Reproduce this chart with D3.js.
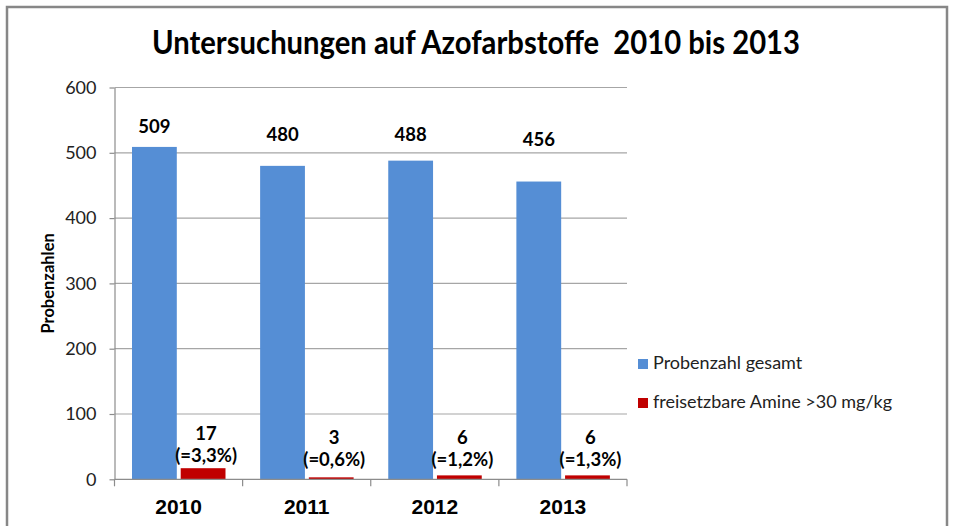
<!DOCTYPE html>
<html>
<head>
<meta charset="utf-8">
<script src="https://cdn.jsdelivr.net/npm/d3@7"></script>
<style>
  body { margin: 0; background: #fff; }
  svg { display: block; }
</style>
</head>
<body>
<svg></svg>
<script>
let width = 953, height = 526;

let years = ["2010", "2011", "2012", "2013"];
let series = ["Probenzahl gesamt", "freisetzbare Amine >30 mg/kg"];
let totals = [509, 480, 488, 456];
let amines = [17, 3, 6, 6];
let percents = ["(=3,3%)", "(=0,6%)", "(=1,2%)", "(=1,3%)"];
let yTicks = [0, 100, 200, 300, 400, 500, 600];
let colours = ["#558ed5", "#c00000"];

// label offsets above the blue bars (manually placed in the original)
let totalLabelGap = [14, 25, 20, 36];

let svg = d3.select("svg")
  .attr("width", width)
  .attr("height", height);

// outer frame (bottom edge falls outside the picture)
svg.append("rect")
  .attr("x", 7).attr("y", 7)
  .attr("width", 940).attr("height", 600)
  .attr("fill", "none")
  .attr("stroke", "#878787")
  .attr("stroke-width", 2.5);

svg.append("text")
  .attr("x", 152).attr("y", 54)
  .attr("textLength", 648)
  .attr("lengthAdjust", "spacingAndGlyphs")
  .style("white-space", "pre")
  .style("font-family", "Lato")
  .style("font-weight", "bold")
  .style("font-size", "32px")
  .text("Untersuchungen auf Azofarbstoffe  2010 bis 2013");

let plotLeft = 114.5, plotRight = 627, plotTop = 87.5, plotBottom = 479.3;

let y = d3.scaleLinear().domain([0, 600]).range([plotBottom, plotTop]);
let x0 = d3.scaleBand().domain(years).range([plotLeft, plotRight]);
let x1 = d3.scaleBand().domain(series).range([17.5, 111]).paddingInner(0.08);

// gridlines
svg.append("g")
  .selectAll("line")
  .data(yTicks.slice(1))
  .enter().append("line")
    .attr("x1", plotLeft).attr("x2", plotRight)
    .attr("y1", d => y(d)).attr("y2", d => y(d))
    .attr("stroke", "#a6a6a6")
    .attr("stroke-width", 1.2);

// y axis
let yAxis = svg.append("g")
  .attr("transform", "translate(" + plotLeft + ",0)")
  .call(d3.axisLeft(y).tickValues(yTicks).tickSize(5).tickPadding(13).tickSizeOuter(0));
yAxis.select(".domain").attr("stroke", "#8c8c8c").attr("stroke-width", 1.2);
yAxis.selectAll(".tick line").attr("stroke", "#8c8c8c").attr("stroke-width", 1.2);
yAxis.selectAll(".tick text")
  .style("font-family", "Lato")
  .style("font-size", "18px")
  .attr("fill", "#222");

svg.append("line")
  .attr("x1", plotLeft).attr("x2", plotLeft)
  .attr("y1", plotBottom).attr("y2", plotBottom + 7)
  .attr("stroke", "#8c8c8c").attr("stroke-width", 1.2);

// y axis title
svg.append("text")
  .attr("transform", "translate(54," + ((plotTop + plotBottom) / 2) + ") rotate(-90)")
  .attr("text-anchor", "middle")
  .style("font-family", "Lato")
  .style("font-weight", "bold")
  .style("font-size", "16.5px")
  .text("Probenzahlen");

// bars
let groups = svg.selectAll(".year")
  .data(years)
  .enter().append("g")
    .attr("class", "year")
    .attr("transform", d => "translate(" + x0(d) + ",0)");

groups.append("rect")
  .attr("x", x1(series[0]))
  .attr("width", x1.bandwidth())
  .attr("y", (d, i) => y(totals[i]))
  .attr("height", (d, i) => plotBottom - y(totals[i]))
  .attr("fill", colours[0]);

groups.append("rect")
  .attr("x", x1(series[1]))
  .attr("width", x1.bandwidth())
  .attr("y", (d, i) => y(amines[i]))
  .attr("height", (d, i) => plotBottom - y(amines[i]))
  .attr("fill", colours[1]);

// x axis
let xAxis = svg.append("g")
  .attr("transform", "translate(0," + plotBottom + ")");
xAxis.append("line")
  .attr("x1", plotLeft).attr("x2", plotRight)
  .attr("stroke", "#8c8c8c").attr("stroke-width", 1.2);
xAxis.selectAll(".xtick")
  .data(years)
  .enter().append("line")
    .attr("x1", d => x0(d) + x0.bandwidth())
    .attr("x2", d => x0(d) + x0.bandwidth())
    .attr("y1", 0).attr("y2", 7)
    .attr("stroke", "#8c8c8c").attr("stroke-width", 1.2);
xAxis.selectAll(".xlabel")
  .data(years)
  .enter().append("text")
    .attr("x", d => x0(d) + x0.bandwidth() / 2)
    .attr("y", 35)
    .attr("text-anchor", "middle")
    .style("font-family", "Liberation Sans")
    .style("font-weight", "bold")
    .style("font-size", "21px")
    .text(d => d);

// data labels
groups.append("text")
  .attr("x", x1(series[0]) + x1.bandwidth() / 2)
  .attr("y", (d, i) => y(totals[i]) - totalLabelGap[i])
  .attr("text-anchor", "middle")
  .style("font-family", "Lato")
  .style("font-weight", "bold")
  .style("font-size", "18.5px")
  .text((d, i) => totals[i]);

let redLabel = groups.append("text")
  .attr("text-anchor", "middle")
  .style("font-family", "Lato")
  .style("font-weight", "bold")
  .style("font-size", "18.5px");
redLabel.append("tspan")
  .attr("x", x1(series[1]) + x1.bandwidth() / 2 + 3)
  .attr("y", (d, i) => i == 0 ? 440 : 444)
  .text((d, i) => amines[i]);
redLabel.append("tspan")
  .attr("x", x1(series[1]) + x1.bandwidth() / 2 + 3)
  .attr("y", (d, i) => i == 0 ? 462 : 466)
  .text((d, i) => percents[i]);

// legend
let legend = svg.selectAll(".legend")
  .data(series)
  .enter().append("g")
    .attr("class", "legend")
    .attr("transform", (d, i) => "translate(638," + (359 + i * 39) + ")");
legend.append("rect")
  .attr("width", 10).attr("height", 10)
  .attr("fill", (d, i) => colours[i]);
legend.append("text")
  .attr("x", 15).attr("y", 10)
  .style("font-family", "Lato")
  .style("font-size", "18px")
  .attr("fill", "#222")
  .text(d => d);
</script>
</body>
</html>
